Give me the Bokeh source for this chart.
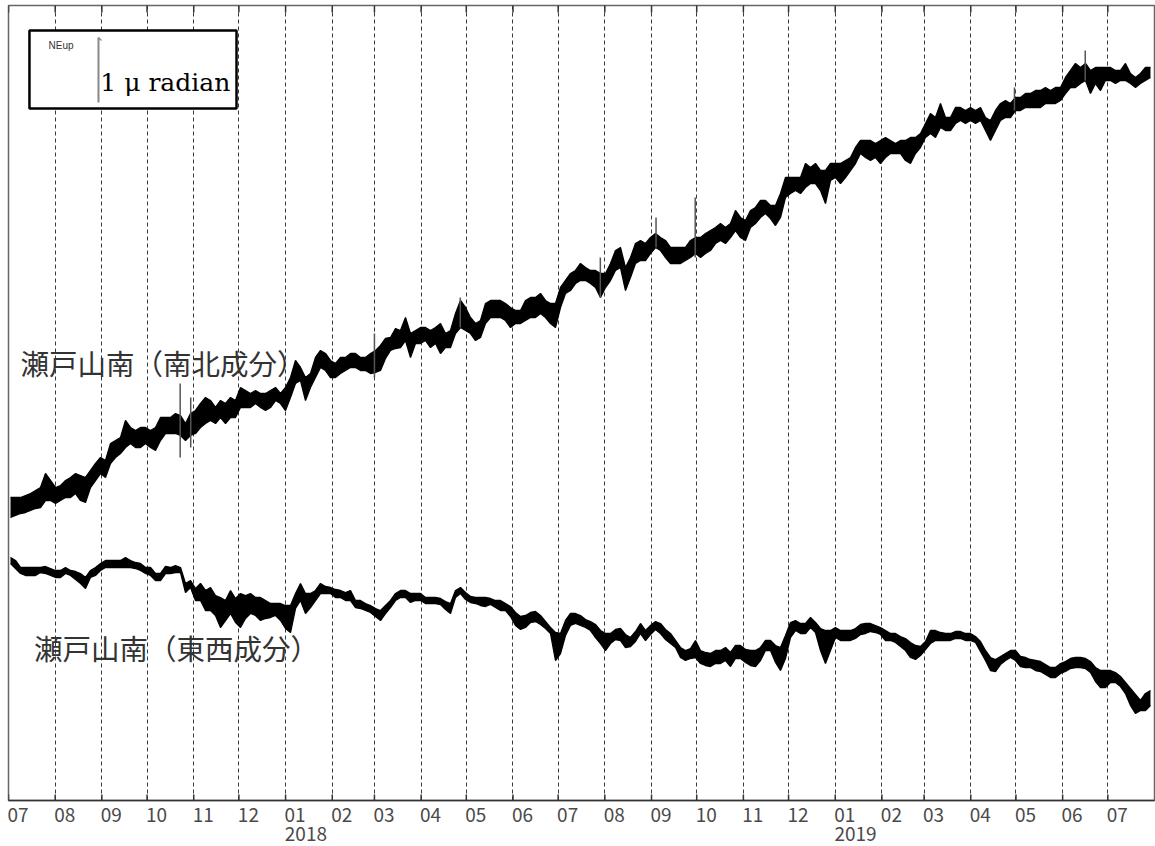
from datetime import datetime, timedelta
import pandas as pd
from bokeh.plotting import figure
from bokeh.models import FixedTicker, Label, ColumnDataSource, DatetimeAxis
from bokeh.embed import file_html
from bokeh.resources import INLINE

# ---------------- data (tilt, raw counts; 65 counts = 1 micro-radian) ----------------
COUNTS_PER_URAD = 65
SAMPLE_START = "2017-07-02 08:00"
SAMPLE_STEP = "4781min"

months = ["2017-07-01", "2017-08-01", "2017-09-01", "2017-10-01", "2017-11-01", "2017-12-01",
          "2018-01-01", "2018-02-01", "2018-03-01", "2018-04-01", "2018-05-01", "2018-06-01",
          "2018-07-01", "2018-08-01", "2018-09-01", "2018-10-01", "2018-11-01", "2018-12-01",
          "2019-01-01", "2019-02-01", "2019-03-01", "2019-04-01", "2019-05-01", "2019-06-01",
          "2019-07-01"]
month_labels = ["07", "08", "09", "10", "11", "12", "01", "02", "03", "04", "05", "06",
                "07", "08", "09", "10", "11", "12", "01", "02", "03", "04", "05", "06", "07"]
years = ["2018-01-01", "2019-01-01"]
year_labels = ["2018", "2019"]

# 瀬戸山南（南北成分）  upper / lower envelope
ns_hi = [303, 303, 303, 305, 307, 310, 313, 327, 320, 313,
         315, 320, 323, 327, 325, 323, 330, 337, 343, 340,
         357, 360, 363, 380, 373, 370, 373, 373, 370, 373,
         383, 383, 383, 387, 385, 377, 387, 390, 397, 403,
         400, 393, 400, 397, 403, 400, 413, 410, 407, 410,
         407, 407, 410, 413, 407, 413, 423, 440, 433, 423,
         427, 443, 450, 447, 440, 437, 443, 443, 447, 447,
         443, 443, 447, 450, 455, 462, 463, 472, 470, 483,
         467, 470, 473, 473, 470, 473, 477, 467, 470, 487,
         500, 493, 483, 477, 480, 497, 500, 500, 500, 497,
         493, 490, 490, 500, 503, 503, 507, 500, 497, 497,
         513, 520, 527, 530, 537, 533, 530, 530, 527, 527,
         537, 550, 553, 533, 543, 557, 560, 557, 563, 567,
         563, 560, 553, 553, 553, 553, 560, 563, 563, 567,
         570, 573, 577, 573, 577, 590, 583, 580, 590, 593,
         600, 600, 595, 595, 607, 623, 623, 623, 623, 637,
         633, 637, 630, 630, 637, 637, 637, 640, 643, 653,
         660, 660, 660, 657, 660, 663, 660, 657, 660, 660,
         663, 663, 667, 677, 687, 683, 697, 683, 683, 693,
         693, 690, 693, 690, 693, 683, 680, 690, 697, 700,
         697, 703, 703, 707, 707, 710, 710, 713, 710, 713,
         713, 723, 730, 737, 733, 737, 730, 733, 733, 733,
         733, 730, 730, 737, 727, 723, 727, 733, 733]
ns_lo = [283, 285, 287, 288, 290, 292, 293, 300, 300, 297,
         300, 303, 303, 307, 300, 298, 313, 320, 327, 323,
         337, 343, 347, 353, 357, 353, 353, 357, 353, 350,
         360, 367, 367, 367, 365, 360, 365, 367, 373, 377,
         380, 377, 383, 377, 383, 383, 393, 393, 393, 397,
         393, 390, 393, 400, 397, 390, 403, 417, 420, 400,
         413, 423, 433, 430, 423, 423, 427, 430, 433, 433,
         430, 430, 427, 428, 430, 442, 450, 452, 453, 460,
         443, 457, 457, 460, 453, 457, 447, 453, 453, 467,
         473, 470, 467, 460, 463, 477, 483, 483, 483, 480,
         473, 477, 477, 480, 483, 483, 487, 483, 477, 473,
         493, 507, 510, 517, 520, 520, 517, 513, 503, 513,
         520, 530, 533, 510, 523, 537, 540, 540, 547, 553,
         550, 543, 537, 537, 537, 540, 543, 547, 543, 547,
         550, 557, 560, 557, 563, 570, 563, 560, 573, 577,
         583, 587, 582, 575, 583, 603, 607, 610, 607, 613,
         617, 617, 610, 597, 620, 623, 617, 623, 630, 637,
         647, 643, 640, 643, 637, 643, 647, 647, 647, 640,
         637, 647, 653, 663, 667, 663, 673, 670, 670, 677,
         680, 677, 680, 677, 680, 670, 660, 670, 680, 683,
         683, 690, 690, 693, 693, 693, 693, 697, 697, 697,
         700, 707, 713, 713, 717, 720, 707, 717, 710, 720,
         720, 717, 720, 720, 717, 713, 717, 720, 723]

# isolated spikes in the N-S record
ns_spike_dates = ["2017-10-23", "2017-10-30", "2018-03-01", "2018-04-27", "2018-07-29",
                  "2018-09-04", "2018-09-30", "2019-04-30", "2019-06-16"]
ns_spike_hi = [417, 403, 467, 503, 543, 583, 603, 713, 750]
ns_spike_lo = [343, 353, 423, 473, 503, 553, 543, 690, 720]

# 瀬戸山南（東西成分）  upper / lower envelope
ew_hi = [243, 240, 233, 233, 233, 233, 233, 234, 232, 230,
         230, 233, 230, 229, 227, 223, 230, 233, 237, 240,
         240, 240, 240, 243, 240, 238, 237, 233, 233, 227,
         227, 234, 233, 235, 233, 217, 220, 212, 217, 210,
         213, 205, 203, 200, 210, 202, 207, 205, 207, 203,
         203, 200, 197, 197, 197, 195, 195, 207, 217, 207,
         207, 210, 217, 214, 213, 211, 210, 208, 210, 200,
         200, 197, 195, 192, 190, 195, 200, 207, 210, 210,
         207, 207, 207, 203, 203, 203, 202, 199, 197, 210,
         213, 208, 204, 203, 203, 203, 202, 200, 200, 197,
         194, 188, 184, 185, 188, 189, 185, 179, 173, 168,
         167, 180, 187, 187, 185, 181, 179, 176, 170, 167,
         167, 171, 172, 166, 163, 169, 177, 170, 175, 179,
         177, 171, 167, 160, 153, 150, 152, 160, 150, 148,
         147, 150, 150, 153, 148, 155, 155, 151, 150, 150,
         153, 160, 160, 155, 153, 165, 178, 180, 177, 177,
         183, 178, 172, 170, 170, 173, 170, 170, 170, 172,
         176, 177, 177, 175, 173, 170, 167, 167, 164, 162,
         158, 155, 154, 159, 170, 170, 168, 167, 167, 169,
         169, 167, 167, 164, 159, 150, 143, 141, 144, 147,
         150, 150, 144, 143, 141, 140, 139, 136, 133, 133,
         137, 139, 142, 143, 143, 142, 139, 133, 130, 130,
         130, 128, 124, 118, 112, 106, 100, 107, 110]
ew_lo = [237, 232, 227, 225, 225, 225, 228, 227, 225, 223,
         223, 227, 225, 221, 217, 212, 223, 225, 230, 233,
         233, 233, 233, 233, 233, 232, 230, 227, 225, 220,
         220, 227, 227, 228, 228, 208, 213, 200, 200, 190,
         190, 185, 173, 180, 187, 178, 173, 182, 187, 185,
         180, 182, 183, 185, 180, 172, 168, 192, 200, 187,
         193, 200, 207, 207, 207, 203, 203, 200, 200, 193,
         192, 190, 188, 184, 180, 187, 193, 200, 203, 203,
         198, 200, 200, 197, 197, 197, 196, 191, 187, 203,
         207, 201, 198, 197, 195, 194, 196, 193, 190, 190,
         184, 175, 171, 173, 178, 179, 176, 172, 167, 140,
         147, 165, 175, 177, 175, 173, 170, 163, 157, 150,
         157, 161, 160, 153, 154, 159, 167, 160, 166, 171,
         167, 161, 157, 153, 143, 140, 142, 143, 137, 135,
         134, 137, 137, 140, 134, 142, 142, 138, 135, 134,
         140, 150, 150, 138, 130, 142, 163, 170, 167, 167,
         173, 168, 150, 137, 150, 163, 160, 160, 160, 162,
         166, 167, 169, 168, 166, 160, 160, 158, 154, 150,
         143, 141, 145, 151, 157, 160, 160, 160, 160, 162,
         162, 160, 160, 158, 149, 140, 130, 129, 136, 140,
         143, 140, 134, 133, 133, 130, 129, 126, 123, 123,
         127, 129, 132, 133, 133, 132, 128, 119, 113, 113,
         118, 118, 114, 107, 95, 87, 90, 90, 95]

# ---------------- figure ----------------
X_START = datetime(2017, 7, 1)
X_END = datetime(2019, 8, 1)
Y_TOP = 795
TICK_FONT = "Noto Sans CJK JP"

t = pd.date_range(SAMPLE_START, periods=len(ns_hi), freq=SAMPLE_STEP)
month_dt = pd.to_datetime(months)
month_ms = [int(d.value // 10**6) for d in month_dt]
# labels sit to the right of each tick (left-aligned in the original)
MONTH_LABEL_SHIFT = int(timedelta(days=6.3).total_seconds() * 1000)
YEAR_LABEL_SHIFT = int(timedelta(days=13.5).total_seconds() * 1000)
month_label_ms = [m + MONTH_LABEL_SHIFT for m in month_ms]
year_label_ms = [int(d.value // 10**6) + YEAR_LABEL_SHIFT for d in pd.to_datetime(years)]

p = figure(frame_width=1146, frame_height=795, x_axis_type="datetime",
           x_range=(X_START, X_END), y_range=(0, Y_TOP),
           y_axis_location=None, toolbar_location=None, output_backend="svg",
           min_border_left=8, min_border_right=1, min_border_top=5, min_border_bottom=46)
p.background_fill_color = "white"
p.border_fill_color = "white"
p.outline_line_color = "#666666"
p.outline_line_width = 1.5

ax = p.xaxis[0]
ax.ticker = FixedTicker(ticks=month_label_ms)
ax.major_label_overrides = dict(zip(month_label_ms, month_labels))
ax.major_tick_line_color = None
ax.minor_tick_line_color = None
ax.axis_line_color = "#333333"
ax.axis_line_width = 1.5
ax.major_label_standoff = 1
ax.major_label_text_font = TICK_FONT
ax.major_label_text_font_size = "19px"
ax.major_label_text_color = "#4a4a4a"

yax = DatetimeAxis(ticker=FixedTicker(ticks=year_label_ms),
                   major_label_overrides=dict(zip(year_label_ms, year_labels)),
                   axis_line_color=None, major_tick_line_color=None, minor_tick_line_color=None,
                   major_tick_out=0, major_tick_in=0,
                   major_label_standoff=2, major_label_text_font=TICK_FONT,
                   major_label_text_font_size="19px", major_label_text_color="#4a4a4a")
p.add_layout(yax, "below")

p.xgrid[0].ticker = FixedTicker(ticks=month_ms)
p.xgrid.grid_line_color = "#3a3a3a"
p.xgrid.grid_line_dash = "4 3"
p.xgrid.grid_line_width = 1
p.ygrid.visible = False

# inner tick marks at top and bottom
n = len(months)
p.segment(x0=month_dt, y0=[Y_TOP - 7] * n, x1=month_dt, y1=[Y_TOP] * n,
          line_color="#333333", line_width=1.5)
p.segment(x0=month_dt, y0=[0] * n, x1=month_dt, y1=[6] * n,
          line_color="#333333", line_width=1.5)

# series
for hi, lo in ((ns_hi, ns_lo), (ew_hi, ew_lo)):
    src = ColumnDataSource(dict(t=t, hi=hi, lo=lo))
    p.varea(x="t", y1="lo", y2="hi", source=src, fill_color="black")
    p.line(x="t", y="hi", source=src, line_color="black", line_width=1.3)
    p.line(x="t", y="lo", source=src, line_color="black", line_width=1.3)

p.segment(x0=pd.to_datetime(ns_spike_dates), y0=ns_spike_lo,
          x1=pd.to_datetime(ns_spike_dates), y1=ns_spike_hi,
          line_color="#555555", line_width=1.5)

# scale box
p.quad(left=[datetime(2017, 7, 14, 22)], right=[datetime(2017, 11, 29, 10)],
       bottom=[692], top=[770], fill_color="white", line_color="black", line_width=2.5)
bar_x = datetime(2017, 8, 29, 18)
bar_y0 = 698
p.segment(x0=[bar_x], y0=[bar_y0], x1=[bar_x], y1=[bar_y0 + COUNTS_PER_URAD],
          line_color="#888888", line_width=2)
p.segment(x0=[bar_x], y0=[bar_y0 + COUNTS_PER_URAD], x1=[datetime(2017, 8, 31, 18)],
          y1=[bar_y0 + COUNTS_PER_URAD - 3], line_color="#888888", line_width=1.2)

p.add_layout(Label(x=datetime(2017, 7, 27, 14), y=755, text="NEup", text_font="Liberation Sans",
                   text_font_size="10px", text_color="#333333", text_baseline="middle"))
p.add_layout(Label(x=datetime(2017, 8, 31), y=718, text="1 \u03bc radian", text_font="DejaVu Serif",
                   text_font_size="25px", text_color="black", text_baseline="alphabetic"))

# series names
p.add_layout(Label(x=datetime(2017, 7, 9), y=438, text="瀬戸山南（南北成分）",
                   text_font="Noto Sans CJK JP", text_font_size="28.5px", text_color="#333333",
                   text_baseline="middle"))
p.add_layout(Label(x=datetime(2017, 7, 18), y=153, text="瀬戸山南（東西成分）",
                   text_font="Noto Sans CJK JP", text_font_size="28.5px", text_color="#333333",
                   text_baseline="middle"))

open("out.html", "w").write(file_html(p, INLINE))
